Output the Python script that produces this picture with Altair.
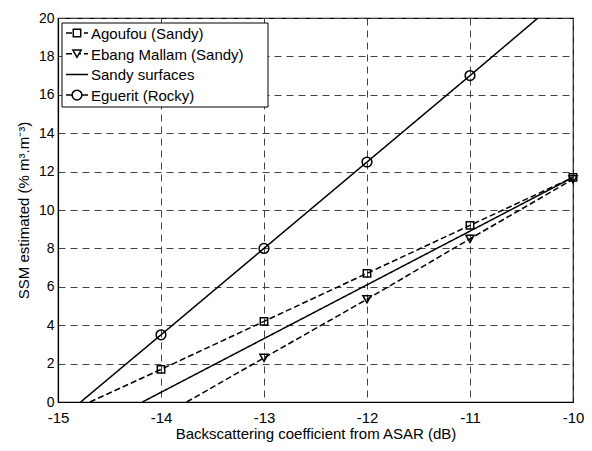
import altair as alt
import pandas as pd

# ---- data ----
series_names = ["Agoufou (Sandy)", "Ebang Mallam (Sandy)", "Sandy surfaces", "Eguerit (Rocky)"]

agoufou_x = [-14.69, -14, -13, -12, -11, -10]
agoufou_y = [0.0, 1.7, 4.2, 6.7, 9.2, 11.7]
agoufou_m = [False, True, True, True, True, True]

ebang_x = [-13.75, -13, -12, -11, -10]
ebang_y = [0.0, 2.3, 5.35, 8.5, 11.6]
ebang_m = [False, True, True, True, True]

sandy_x = [-14.18, -10]
sandy_y = [0.0, 11.7]
sandy_m = [False, False]

eguerit_x = [-14.78, -14, -13, -12, -11, -10.34]
eguerit_y = [0.0, 3.5, 8.0, 12.5, 17.0, 20.0]
eguerit_m = [False, True, True, True, True, False]

x_ticks = [-15, -14, -13, -12, -11, -10]
y_ticks = [0, 2, 4, 6, 8, 10, 12, 14, 16, 18, 20]

rows = []
for name, xs, ys, ms in [
    (series_names[0], agoufou_x, agoufou_y, agoufou_m),
    (series_names[1], ebang_x, ebang_y, ebang_m),
    (series_names[2], sandy_x, sandy_y, sandy_m),
    (series_names[3], eguerit_x, eguerit_y, eguerit_m),
]:
    for i, (a, b, m) in enumerate(zip(xs, ys, ms)):
        rows.append({"series": name, "x": a, "y": b, "marker": m, "order": i})
df = pd.DataFrame(rows)

legend_df = pd.DataFrame({"series": series_names, "idx": list(range(len(series_names)))})

FONT = "Liberation Sans"

dash_scale = alt.Scale(domain=series_names, range=[[6, 3], [6, 3], [1, 0], [1, 0]])
shape_scale = alt.Scale(domain=series_names,
                        range=["square", "triangle-down", "circle", "circle"])
size_scale = alt.Scale(domain=series_names, range=[55, 95, 115, 115])

x_axis = alt.Axis(values=x_ticks, title="Backscattering coefficient from ASAR (dB)",
                  labelExpr="datum.value + ''", grid=True, ticks=False,
                  labelOverlap=False, labelFlush=False,
                  labelPadding=8, titlePadding=1)
y_axis = alt.Axis(values=y_ticks, title="SSM estimated (% m³.m⁻³)",
                  labelOverlap=False, labelFlush=False, labelFontSize=14,
                  grid=True, ticks=False, labelPadding=4, titlePadding=7)
x_scale = alt.Scale(domain=[-15, -10], nice=False)
y_scale = alt.Scale(domain=[0, 20], nice=False)

lines = alt.Chart(df).mark_line(color="black", strokeWidth=1.5, clip=True).encode(
    x=alt.X("x:Q", scale=x_scale, axis=x_axis),
    y=alt.Y("y:Q", scale=y_scale, axis=y_axis),
    detail="series:N",
    order="order:Q",
    strokeDash=alt.StrokeDash("series:N", scale=dash_scale, legend=None),
)

points = alt.Chart(df).transform_filter("datum.marker").mark_point(
    filled=False, color="black", strokeWidth=1.5, opacity=1
).encode(
    x=alt.X("x:Q", scale=x_scale, axis=x_axis),
    y=alt.Y("y:Q", scale=y_scale, axis=y_axis),
    shape=alt.Shape("series:N", scale=shape_scale, legend=None),
    size=alt.Size("series:N", scale=size_scale, legend=None),
)

# ---- manual legend (top-left box) ----
leg_base = alt.Chart(legend_df).transform_calculate(py="15 + 20.7 * datum.idx")

leg_box = alt.Chart(pd.DataFrame({"series": ["box"]})).mark_rect(
    fill="white", stroke="black", strokeWidth=1
).encode(x=alt.value(4), x2=alt.value(210), y=alt.value(5), y2=alt.value(89))

leg_lines = leg_base.mark_rule(color="black", strokeWidth=1.5).encode(
    x=alt.value(8), x2=alt.value(30),
    y=alt.Y("py:Q", scale=None, axis=None),
    strokeDash=alt.StrokeDash("series:N", scale=dash_scale, legend=None),
)

leg_points = leg_base.transform_filter("datum.series != 'Sandy surfaces'").mark_point(
    filled=False, color="black", strokeWidth=1.5, opacity=1, fill="white"
).encode(
    x=alt.value(19),
    y=alt.Y("py:Q", scale=None, axis=None),
    shape=alt.Shape("series:N", scale=shape_scale, legend=None),
    size=alt.Size("series:N", scale=size_scale, legend=None),
)

leg_text = leg_base.mark_text(align="left", baseline="middle", font=FONT, fontSize=15,
                              color="black", dy=1).encode(
    x=alt.value(33),
    y=alt.Y("py:Q", scale=None, axis=None),
    text="series:N",
)

chart = alt.layer(lines, points, leg_box, leg_lines, leg_points, leg_text).properties(
    width=515, height=384,
    background="white",
    autosize=alt.AutoSizeParams(type="none"),
    padding={"left": 50, "top": 10, "right": 11, "bottom": 40},
).configure_view(
    stroke="black", strokeWidth=1.2
).configure_axis(
    labelFont=FONT, titleFont=FONT, labelFontSize=15, titleFontSize=15,
    labelColor="black", titleColor="black", titleFontWeight="normal",
    domainColor="black", domainWidth=1.2,
    gridColor="#444", gridDash=[7, 5], gridWidth=1, gridOpacity=1,
)

chart.save("out.html", embed_options={"renderer": "svg", "actions": False})
